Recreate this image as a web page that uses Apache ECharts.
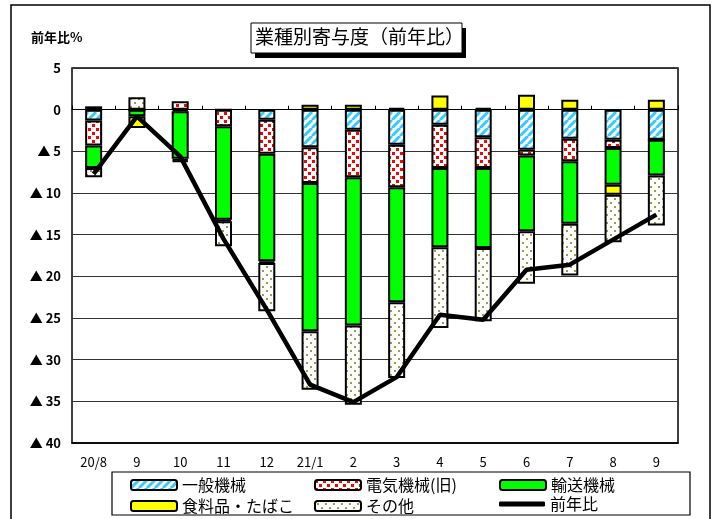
<!DOCTYPE html>
<html><head><meta charset="utf-8">
<script src="https://cdn.jsdelivr.net/npm/echarts@6/dist/echarts.min.js"></script>
<style>html,body{margin:0;padding:0;background:#fff}#c{width:714px;height:519px}</style>
</head><body><div id="c"></div>
<script>
const categories = ['20/8','9','10','11','12','21/1','2','3','4','5','6','7','8','9'];
const generalMachinery = [-1.3, 0, -0.2, 0, -1.2, -4.5, -2.4, -4.2, -1.8, -3.3, -4.8, -3.5, -3.6, -3.6];
const electricMachinery = [-3.0, 0, 1.0, -2.0, -4.1, -4.3, -5.7, -5.1, -5.2, -3.7, -0.7, -2.7, -1.0, 0];
const transportMachinery = [-2.7, -0.8, -5.7, -11.2, -12.9, -17.8, -17.8, -13.8, -9.5, -9.6, -9.1, -7.5, -4.4, -4.3];
const foodTobacco = [0.4, -1.4, -0.2, -0.2, -0.2, 0.6, 0.6, 0.2, 1.7, 0.2, 1.8, 1.2, -1.2, 1.2];
const others = [-1.1, 1.5, -0.2, -3.0, -5.8, -7.0, -9.5, -9.1, -9.7, -8.8, -6.3, -6.2, -5.7, -6.0];
const yoy = [-7.7, -0.8, -5.6, -15.5, -24.0, -33.0, -35.1, -32.1, -24.6, -25.2, -19.2, -18.6, -15.6, -12.6];
const seriesNames = ['一般機械','電気機械(旧)','輸送機械','食料品・たばこ','その他','前年比'];

function pattern(w, h, draw) {
  const c = document.createElement('canvas');
  c.width = w; c.height = h;
  const ctx = c.getContext('2d');
  ctx.fillStyle = '#fff'; ctx.fillRect(0, 0, w, h);
  draw(ctx);
  return { image: c, repeat: 'repeat' };
}
const stripe = pattern(8, 8, ctx => {
  ctx.strokeStyle = '#33CCFF'; ctx.lineWidth = 3;
  for (let o = -8; o <= 16; o += 8) { ctx.beginPath(); ctx.moveTo(o, 8); ctx.lineTo(o + 8, 0); ctx.stroke(); }
});
const redDots = pattern(8, 8, ctx => {
  ctx.fillStyle = '#FF0000';
  ctx.fillRect(0, 0, 3, 3); ctx.fillRect(4, 4, 3, 3);
});
const olDots = pattern(8, 8, ctx => {
  ctx.fillStyle = '#9C9C50';
  ctx.fillRect(2, 2, 2, 2); ctx.fillRect(6, 6, 2, 2);
});

const font = '"Noto Sans CJK JP", sans-serif';
const chart = echarts.init(document.getElementById('c'));
function barSeries(name, data, color) {
  return { name, type: 'bar', stack: 'total', data, barWidth: 17,
    itemStyle: { color, borderColor: '#000', borderWidth: 2 } };
}
function legendAt(name, left, top, extra) {
  return Object.assign({ data: [name], left, top, padding: 0, itemWidth: 46, itemHeight: 10,
    itemGap: 0, textStyle: { fontSize: 16, color: '#000', fontFamily: font } }, extra || {});
}
chart.setOption({
  animation: false,
  textStyle: { fontFamily: font },
  grid: { left: 72, right: 36, top: 68, bottom: 76, show: true, borderColor: '#000', borderWidth: 1.5 },
  xAxis: [
    { type: 'category', data: categories, position: 'bottom',
      axisLine: { onZero: false, lineStyle: { color: '#000', width: 1.5 } }, axisTick: { show: false },
      axisLabel: { color: '#000', fontSize: 13, margin: 13, fontFamily: font } },
    { type: 'category', data: categories, position: 'bottom',
      axisLine: { onZero: true, lineStyle: { color: '#000', width: 1 } },
      axisTick: { show: true, inside: true, length: 4, lineStyle: { color: '#000' } },
      axisLabel: { show: false } }
  ],
  yAxis: { type: 'value', min: -40, max: 5, interval: 5,
    axisLine: { show: false }, axisTick: { show: false },
    splitLine: { lineStyle: { color: '#333', width: 1 } },
    axisLabel: { color: '#000', fontSize: 13, fontWeight: 'bold', margin: 11, fontFamily: font,
      formatter: v => v < 0 ? '▲ ' + (-v) : String(v) } },
  legend: [
    legendAt(seriesNames[0], 130, 477),
    legendAt(seriesNames[1], 314, 477),
    legendAt(seriesNames[2], 499, 477),
    legendAt(seriesNames[3], 130, 498),
    legendAt(seriesNames[4], 314, 498),
    legendAt(seriesNames[5], 499, 496, { itemHeight: 5, icon: 'roundRect' })
  ],
  graphic: [
    { type: 'rect', shape: { x: 11, y: 5, width: 699, height: 520 }, style: { fill: 'none', stroke: '#000', lineWidth: 1.5 }, silent: true, z: -1 },
    { type: 'rect', shape: { x: 112, y: 472, width: 578, height: 43 }, style: { fill: 'none', stroke: '#000', lineWidth: 1.2 }, silent: true },
    { type: 'rect', shape: { x: 255, y: 28, width: 211, height: 30 }, style: { fill: '#000' }, silent: true },
    { type: 'rect', shape: { x: 251, y: 23, width: 211, height: 30 }, style: { fill: '#fff', stroke: '#000', lineWidth: 1 }, silent: true },
    { type: 'text', left: 255, top: 27, style: { text: '業種別寄与度（前年比）', fontSize: 19, fill: '#000', fontFamily: font }, silent: true },
    { type: 'text', left: 31, top: 31, style: { text: '前年比%', fontSize: 13, fontWeight: 'bold', fill: '#000', fontFamily: font }, silent: true }
  ],
  series: [
    barSeries(seriesNames[0], generalMachinery, stripe),
    barSeries(seriesNames[1], electricMachinery, redDots),
    barSeries(seriesNames[2], transportMachinery, '#00FF00'),
    barSeries(seriesNames[3], foodTobacco, '#FFFF00'),
    barSeries(seriesNames[4], others, olDots),
    { name: seriesNames[5], type: 'line', data: yoy, symbol: 'none', z: 10,
      itemStyle: { color: '#000' }, lineStyle: { color: '#000', width: 4.5 } }
  ]
});
</script></body></html>
